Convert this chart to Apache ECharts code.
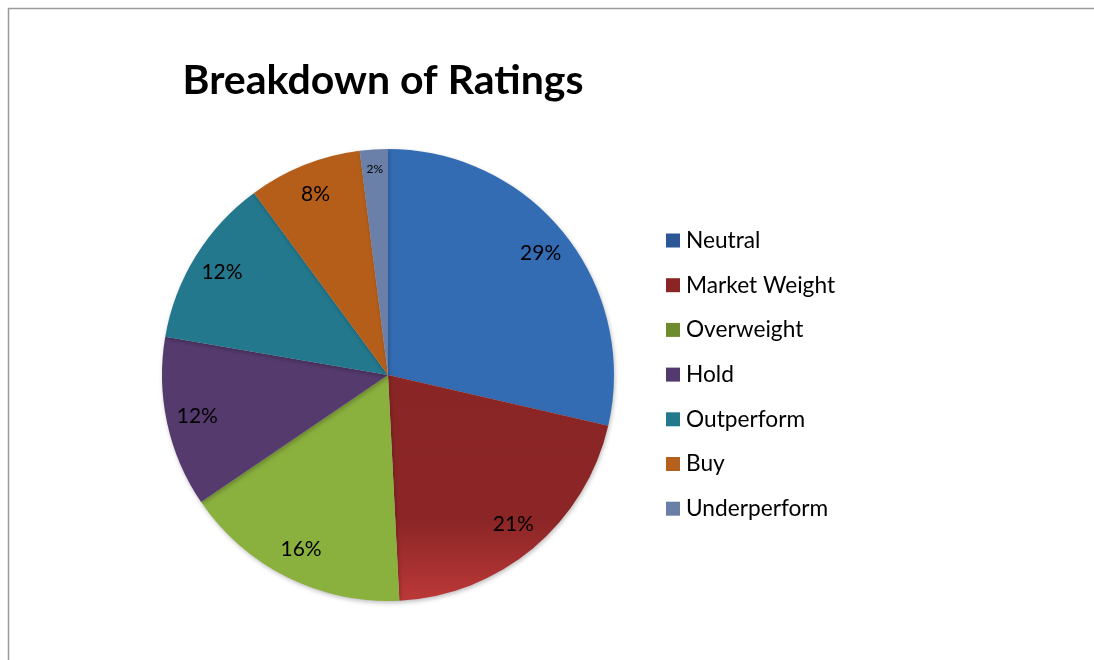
<!DOCTYPE html>
<html><head><meta charset="utf-8">
<script src="https://cdn.jsdelivr.net/npm/echarts@6/dist/echarts.min.js"></script>
<style>html,body{margin:0;padding:0;background:#fff}#c{width:1094px;height:660px}</style>
</head><body><div id="c"></div>
<script>
const categories = ['Neutral','Market Weight','Overweight','Hold','Outperform','Buy','Underperform'];
const shares = [28.6, 20.6, 16.3, 12.2, 12.2, 8.1, 2.0];
const sliceColors = ['#346CB4', '#8A2525', '#8AB03E', '#553A6E', '#23788D', '#B55E1A', '#6B80A8'];
const legendColors = ['#2C5797', '#8B2525', '#6E8B2E', '#533A6D', '#23788B', '#B5611C', '#6A7FA6'];
const title = 'Breakdown of Ratings';

const FONT = 'Lato, "Open Sans", sans-serif';
const CX = 388, CY = 375, R = 226;

function sliceColor(i) {
  if (i === 1) {
    return new echarts.graphic.LinearGradient(0, 0, 0, 1, [
      {offset: 0, color: '#8A2525'},
      {offset: 0.65, color: '#8C2626'},
      {offset: 1, color: '#BC3838'}
    ]);
  }
  return sliceColors[i];
}

const total = shares.reduce((a, b) => a + b, 0);
const pieData = categories.map((n, i) => ({
  name: n, value: shares[i],
  itemStyle: {color: sliceColor(i)}
}));
const labelData = categories.map((n, i) => {
  const small = shares[i] / total < 0.05;
  return {
    name: n, value: shares[i],
    label: small ? {fontSize: 12, offset: [-1, -11]} : {fontSize: 21}
  };
});

const chart = echarts.init(document.getElementById('c'), null, {renderer: 'canvas'});
chart.setOption({
  animation: false,
  backgroundColor: '#fff',
  graphic: [{
    type: 'rect', shape: {x: 8.5, y: 8.5, width: 1200, height: 800},
    style: {fill: 'none', stroke: '#9a9a9a', lineWidth: 1.5}, silent: true
  }],
  title: {
    text: title, left: 378, top: 55, textAlign: 'center',
    textStyle: {fontFamily: FONT, fontSize: 41, fontWeight: 'bold', color: '#000'}
  },
  legend: {
    orient: 'vertical', left: 666, top: 229, padding: 0,
    icon: 'rect', itemWidth: 14, itemHeight: 14, itemGap: 21.7,
    textStyle: {fontFamily: FONT, fontSize: 22.7, color: '#000', padding: [0, 0, 0, 1]},
    data: categories.map((n, i) => ({name: n, itemStyle: {color: legendColors[i]}}))
  },
  series: [{
    type: 'pie', center: [CX, CY], radius: [0, R],
    startAngle: 90, clockwise: true, silent: true,
    label: {show: false}, labelLine: {show: false},
    itemStyle: {shadowBlur: 4, shadowColor: 'rgba(0,0,0,0.25)', shadowOffsetX: 1, shadowOffsetY: 2},
    data: pieData
  }, {
    type: 'pie', center: [CX, CY], radius: [R * 0.7, R], legendHoverLink: false,
    startAngle: 90, clockwise: true, silent: true,
    itemStyle: {color: 'rgba(0,0,0,0)'},
    label: {
      show: true, position: 'inside', fontFamily: FONT, color: '#000',
      formatter: p => Math.round(p.percent) + '%'
    },
    labelLine: {show: false},
    data: labelData
  }]
});
</script></body></html>
